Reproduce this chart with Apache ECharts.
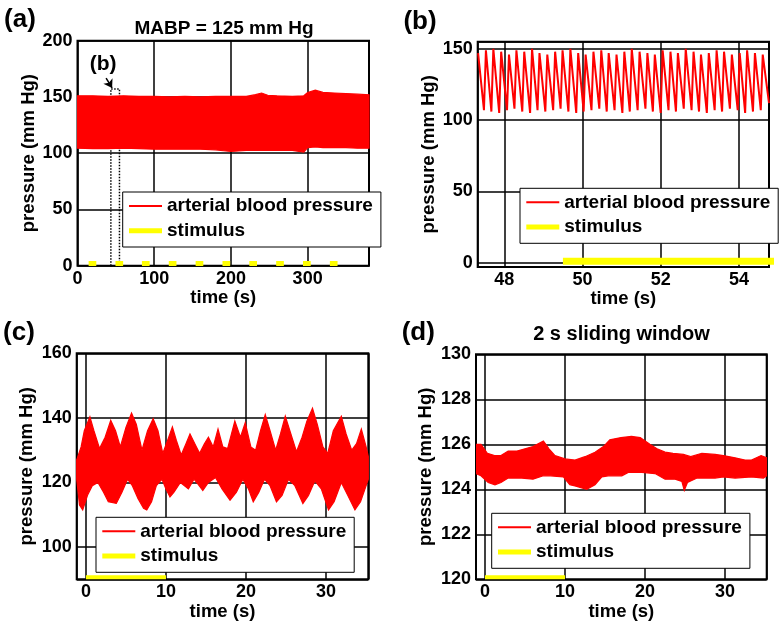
<!DOCTYPE html>
<html><head><meta charset="utf-8">
<script src="https://cdn.jsdelivr.net/npm/echarts@6.0.0/dist/echarts.min.js"></script>
<style>html,body{margin:0;padding:0;background:#fff}#c{width:780px;height:627px}</style>
</head><body><div id="c"></div>
<script>
// ---------- Panel (a): whole recording, envelope of the pressure band ----------
const aUpperTime = [0, 20, 40, 60, 80, 100, 120, 140, 160, 180, 200, 220, 232, 240, 248, 260, 280, 295, 300, 310, 320, 335, 350, 365, 380];
const aUpper     = [151, 151, 150.5, 151, 150.5, 150.5, 150, 150.5, 150, 150.5, 150.5, 150.5, 152, 153.5, 151.5, 151, 150.5, 151, 154, 156, 154, 153.5, 153, 152.5, 152];
const aLowerTime = [0, 20, 40, 60, 80, 100, 120, 140, 160, 180, 200, 220, 240, 260, 280, 295, 300, 310, 320, 335, 350, 365, 380];
const aLower     = [104.5, 104, 104, 104.5, 104, 103.5, 103.5, 103.5, 103.5, 103, 101.5, 102.5, 102.5, 102.5, 102.5, 101, 105, 105.5, 105, 105, 105, 104.5, 104.5];
const aStimStart = [14.5, 49.5, 84, 119, 154, 189, 224, 259, 294, 329];
const aStimEnd   = [24.5, 59.5, 94, 129, 164, 199, 234, 269, 304, 339];
const aStimLevel = 2;
const aZoomBox   = [43.5, 54.7, 0, 157];     // dotted box marking panel (b)
const aArrow     = [37.3, 166.8, 45.1, 158]; // arrow from label to box
const aBoxLabel  = [33.4, 179.3];

// ---------- Panel (b): zoom on individual beats ----------
const bTime = [47.33,
  47.48, 47.53, 47.67, 47.72, 47.87, 47.92, 48.07, 48.12, 48.26, 48.31,
  48.46, 48.51, 48.66, 48.71, 48.85, 48.90, 49.05, 49.10, 49.25, 49.30,
  49.44, 49.49, 49.64, 49.69, 49.84, 49.89, 50.03, 50.08, 50.23, 50.28,
  50.43, 50.48, 50.62, 50.67, 50.82, 50.87, 51.02, 51.07, 51.21, 51.26,
  51.41, 51.46, 51.61, 51.66, 51.80, 51.85, 52.00, 52.05, 52.20, 52.25,
  52.39, 52.44, 52.59, 52.64, 52.79, 52.84, 52.98, 53.03, 53.18, 53.23,
  53.38, 53.43, 53.57, 53.62, 53.77, 53.82, 53.97, 54.02, 54.16, 54.21,
  54.36, 54.41, 54.56, 54.61, 54.77];
const bPressure = [147,
  107, 149, 106, 150, 105, 148, 107, 146, 108, 149,
  106, 148, 105, 150, 107, 147, 106, 146, 107, 148,
  108, 149, 106, 150, 105, 147, 106, 146, 107, 148,
  108, 149, 106, 147, 107, 146, 105, 148, 106, 150,
  107, 148, 108, 147, 106, 146, 105, 149, 107, 148,
  106, 147, 108, 150, 107, 148, 106, 146, 105, 147,
  107, 149, 106, 148, 108, 146, 107, 147, 105, 149,
  106, 147, 107, 146, 112];
const bStimStart = [49.5];
const bStimEnd   = [59.5];
const bStimLevel = 1;

// ---------- Panel (c): 35 s excerpt ----------
const cUpperTime = [-1.15,-0.6,-0.2,0.5,1.0,1.7,2.4,3.1,3.7,4.3,5.0,5.7,6.3,7.0,7.7,8.4,9.0,9.6,10.2,10.8,11.3,11.9,12.5,13.0,13.6,14.2,14.8,15.3,15.9,16.5,17.1,17.7,18.6,19.3,19.9,20.6,21.2,21.8,22.4,23.0,23.7,24.3,24.9,25.6,26.3,27.0,27.6,28.3,28.9,29.6,30.2,30.9,31.9,32.5,33.2,33.8,34.4,35.0,35.27];
const cUpper     = [127,131,136,140.3,136,130.5,134,139.2,136,131,137,141.5,138,130,136,139.7,136,129,133,137.2,133,128.5,132,135,132,129,132,134,131,136.5,131,130.5,139,134,138.5,131,130,136,141,136,130,135,140.5,135,129.5,134,139,143,138,131,129,136,140.5,135,130,132,136.5,131,128];
const cLowerTime = [-1.15,-0.8,-0.4,0.2,0.8,1.5,2.2,2.8,3.8,4.5,5.2,5.8,6.5,7.2,7.6,8.2,8.8,9.5,10.0,10.5,11.0,11.8,12.8,13.5,14.0,14.6,15.3,16.2,17.0,18.0,18.8,19.6,20.3,20.9,21.6,22.3,23.0,23.8,24.5,25.3,26.1,27.1,27.8,28.6,29.4,30.3,31.0,31.9,32.7,33.6,34.3,35.0,35.27];
const cLower     = [121,113,111.5,116,119,120,117,114,113.5,117,121,119,115,112,111.5,114,119,121,118,115.5,117,120,118,121,119.5,117.5,120,121.5,118,114.5,117,121,118,114,117,121,119,114,116,121,119,113.5,116,120.5,118,111.5,114,120,116,111.5,114,119,121];
const cStimStart = [0];
const cStimEnd   = [10];
const cStimLevel = 90.6;

// ---------- Panel (d): 2 s sliding window ----------
const dUpperTime = [-1.12,-0.5,0.3,1.2,2.0,2.9,4.0,5.0,6.0,7.3,8.0,8.75,10.0,11.25,12.5,13.75,14.8,15.6,17.0,18.3,19.4,20.6,21.5,22.5,23.5,24.8,25.7,27.1,28.75,29.8,31.25,32.5,33.3,34.5,35.2];
const dUpper     = [126.0,126.0,125.6,125.5,125.5,125.7,125.7,125.8,125.9,126.15,125.8,125.5,125.35,125.3,125.45,125.65,125.9,126.2,126.3,126.35,126.3,126.0,125.8,125.65,125.6,125.55,125.45,125.6,125.55,125.5,125.4,125.3,125.3,125.5,125.4];
const dLowerTime = [-1.12,-0.5,0.4,1.25,2.0,2.9,4.6,6.0,7.3,8.2,9.8,10.6,11.25,12.7,13.75,14.6,15.4,17.1,17.9,19.6,21.25,22.5,23.75,24.6,24.9,25.3,26.5,28.75,29.8,31.25,33.3,34.8,35.2];
const dLower     = [124.7,124.6,124.3,124.2,124.3,124.5,124.5,124.45,124.6,124.6,124.55,124.2,124.15,124.0,124.2,124.55,124.6,124.6,124.75,124.75,124.7,124.45,124.45,124.35,123.95,124.3,124.5,124.5,124.55,124.5,124.55,124.5,124.6];
const dStimStart = [0];
const dStimEnd   = [10];
const dStimLevel = 120.09;

// ---------- Text ----------
const panelLabels = ['(a)', '(b)', '(c)', '(d)'];
const titleA = 'MABP = 125 mm Hg';
const titleD = '2 s sliding window';
const xName = 'time (s)';
const yName = 'pressure (mm Hg)';
const nameABP = 'arterial blood pressure';
const nameStim = 'stimulus';

// ---------- Build ----------
const FONT = '"Liberation Sans", Arial, Helvetica, sans-serif';
const RED = '#ff0000', YEL = '#ffff00';

function pairs(t, v) { return t.map((x, i) => [x, v[i]]); }

function bandSeries(idx, ut, uv, lt, lv) {
  return {
    type: 'custom', name: nameABP, xAxisIndex: idx, yAxisIndex: idx, clip: true, z: 2,
    itemStyle: {color: RED},
    data: pairs(ut, uv),
    encode: {x: 0, y: 1},
    renderItem: function (params, api) {
      if (params.dataIndexInside !== 0) return null;
      const pts = [];
      for (let i = 0; i < ut.length; i++) pts.push(api.coord([ut[i], uv[i]]));
      for (let i = lt.length - 1; i >= 0; i--) pts.push(api.coord([lt[i], lv[i]]));
      return {type: 'polygon', shape: {points: pts}, style: {fill: RED, stroke: RED, lineWidth: 1.2}};
    }
  };
}
function lineSeries(idx, t, v) {
  return {type: 'line', name: nameABP, xAxisIndex: idx, yAxisIndex: idx, symbol: 'none', z: 2,
    lineStyle: {color: RED, width: 2}, itemStyle: {color: RED}, data: pairs(t, v)};
}
function stimSeries(idx, starts, ends, level, width, extra) {
  const d = [];
  starts.forEach((s, i) => { d.push([s, level]); d.push([ends[i], level]); d.push([ends[i], '-']); });
  return Object.assign({type: 'line', name: nameStim, xAxisIndex: idx, yAxisIndex: idx, symbol: 'none', z: 3,
    connectNulls: false, lineStyle: {color: YEL, width: width}, itemStyle: {color: YEL}, data: d}, extra || {});
}

function xAx(idx, min, max, iv, opts) {
  opts = opts || {};
  const a = {type: 'value', gridIndex: idx, min: min, max: max,
    axisLine: {show: false}, axisTick: {show: false},
    splitLine: {show: true, lineStyle: {color: '#000', width: 1.5}},
    axisLabel: {color: '#000', fontFamily: FONT, fontWeight: 'bold', fontSize: 18, margin: 4,
      showMinLabel: opts.showMin !== false, showMaxLabel: opts.showMax !== false},
    name: xName, nameLocation: 'middle', nameGap: opts.nameGap || 21,
    nameTextStyle: {color: '#000', fontFamily: FONT, fontWeight: 'bold', fontSize: 18.5}};
  if (opts.exact) a.interval = iv; else { a.minInterval = iv; a.maxInterval = iv; }
  return a;
}
function yAx(idx, min, max, iv, opts) {
  opts = opts || {};
  const a = {type: 'value', gridIndex: idx, min: min, max: max,
    axisLine: {show: false}, axisTick: {show: false},
    splitLine: {show: true, lineStyle: {color: '#000', width: 1.5}},
    axisLabel: {color: '#000', fontFamily: FONT, fontWeight: 'bold', fontSize: 18, margin: 5,
      showMinLabel: opts.showMin !== false, showMaxLabel: opts.showMax !== false},
    name: yName, nameLocation: 'middle', nameGap: opts.nameGap || 39,
    nameTextStyle: {color: '#000', fontFamily: FONT, fontWeight: 'bold', fontSize: 18.5}};
  if (opts.exact) a.interval = iv; else { a.minInterval = iv; a.maxInterval = iv; }
  return a;
}

const ICON_THIN = 'path://M0,0M33,10M0,4L33,4L33,6L0,6Z';
const ICON_THICK = 'path://M0,0M33,10M0,2.5L33,2.5L33,7.5L0,7.5Z';
function legend(left, top) {
  return {orient: 'vertical', left: left, top: top, padding: [4.5, 8, 6.8, 6.3], itemGap: 5.7,
    itemWidth: 33, itemHeight: 10, symbolKeepAspect: false, selectedMode: false,
    backgroundColor: '#fff', borderColor: '#000', borderWidth: 1, z: 10,
    itemStyle: {borderWidth: 0},
    textStyle: {color: '#000', fontFamily: FONT, fontWeight: 'bold', fontSize: 19},
    data: [{name: nameABP, icon: ICON_THIN, itemStyle: {color: RED}},
           {name: nameStim, icon: ICON_THICK, itemStyle: {color: YEL}}]};
}
function txt(x, y, s, size) {
  return {type: 'text', x: x, y: y, z: 20,
    style: {text: s, align: 'center', verticalAlign: 'middle', fill: '#000',
      font: 'bold ' + size + 'px ' + FONT}};
}

const aExtra = {
  markArea: {silent: true, itemStyle: {color: 'rgba(0,0,0,0)', borderColor: '#000', borderWidth: 1.5, borderType: 'dotted'},
    data: [[{xAxis: aZoomBox[0], yAxis: aZoomBox[2]}, {xAxis: aZoomBox[1], yAxis: aZoomBox[3]}]]},
  markLine: {silent: true, symbol: ['none', 'arrow'], symbolSize: 8, label: {show: false},
    lineStyle: {color: '#000', width: 1.5, type: 'solid'},
    data: [[{coord: [aArrow[0], aArrow[1]]}, {coord: [aArrow[2], aArrow[3]]}]]},
  markPoint: {silent: true, symbol: 'circle', symbolSize: 0,
    label: {show: true, position: 'inside', formatter: panelLabels[1], color: '#000', fontFamily: FONT, fontWeight: 'bold', fontSize: 21},
    data: [{coord: aBoxLabel}]}
};

const option = {
  animation: false,
  backgroundColor: '#fff',
  grid: [
    {left: 77.5, top: 40.7, width: 291.5, height: 225, show: true, borderColor: '#000', borderWidth: 2},
    {left: 477.7, top: 41.7, width: 291.3, height: 225.3, show: true, borderColor: '#000', borderWidth: 2},
    {left: 76.7, top: 353.3, width: 291.6, height: 226, show: true, borderColor: '#000', borderWidth: 2},
    {left: 476, top: 354.3, width: 290.7, height: 225, show: true, borderColor: '#000', borderWidth: 2}
  ],
  xAxis: [
    xAx(0, 0, 380, 100, {exact: true, showMax: false}),
    xAx(1, 47.32, 54.77, 2, {showMin: false, showMax: false}),
    xAx(2, -1.15, 35.27, 10, {showMin: false, showMax: false, nameGap: 22.5}),
    xAx(3, -1.12, 35.2, 10, {showMin: false, showMax: false, nameGap: 23.5})
  ],
  yAxis: [
    yAx(0, 0, 200, 50, {exact: true, nameGap: 39}),
    yAx(1, -3, 155, 50, {showMin: false, showMax: false, nameGap: 38.5}),
    yAx(2, 90, 160, 20, {showMin: false, nameGap: 40}),
    yAx(3, 120, 130, 2, {exact: true, nameGap: 41})
  ],
  legend: [legend(122.7, 192), legend(520, 188.3), legend(96, 517.3), legend(491.7, 513.3)],
  series: [
    bandSeries(0, aUpperTime, aUpper, aLowerTime, aLower),
    stimSeries(0, aStimStart, aStimEnd, aStimLevel, 5, aExtra),
    lineSeries(1, bTime, bPressure),
    stimSeries(1, bStimStart, bStimEnd, bStimLevel, 7),
    bandSeries(2, cUpperTime, cUpper, cLowerTime, cLower),
    stimSeries(2, cStimStart, cStimEnd, cStimLevel, 4),
    bandSeries(3, dUpperTime, dUpper, dLowerTime, dLower),
    stimSeries(3, dStimStart, dStimEnd, dStimLevel, 4)
  ],
  graphic: [
    txt(20, 19.5, panelLabels[0], 26),
    txt(420, 21.7, panelLabels[1], 26),
    txt(19, 332.5, panelLabels[2], 26),
    txt(418.3, 332.5, panelLabels[3], 26),
    txt(224, 28.5, titleA, 19),
    txt(621.5, 334, titleD, 20)
  ]
};
const chart = echarts.init(document.getElementById('c'), null, {renderer: 'canvas'});
chart.setOption(option);
</script></body></html>
